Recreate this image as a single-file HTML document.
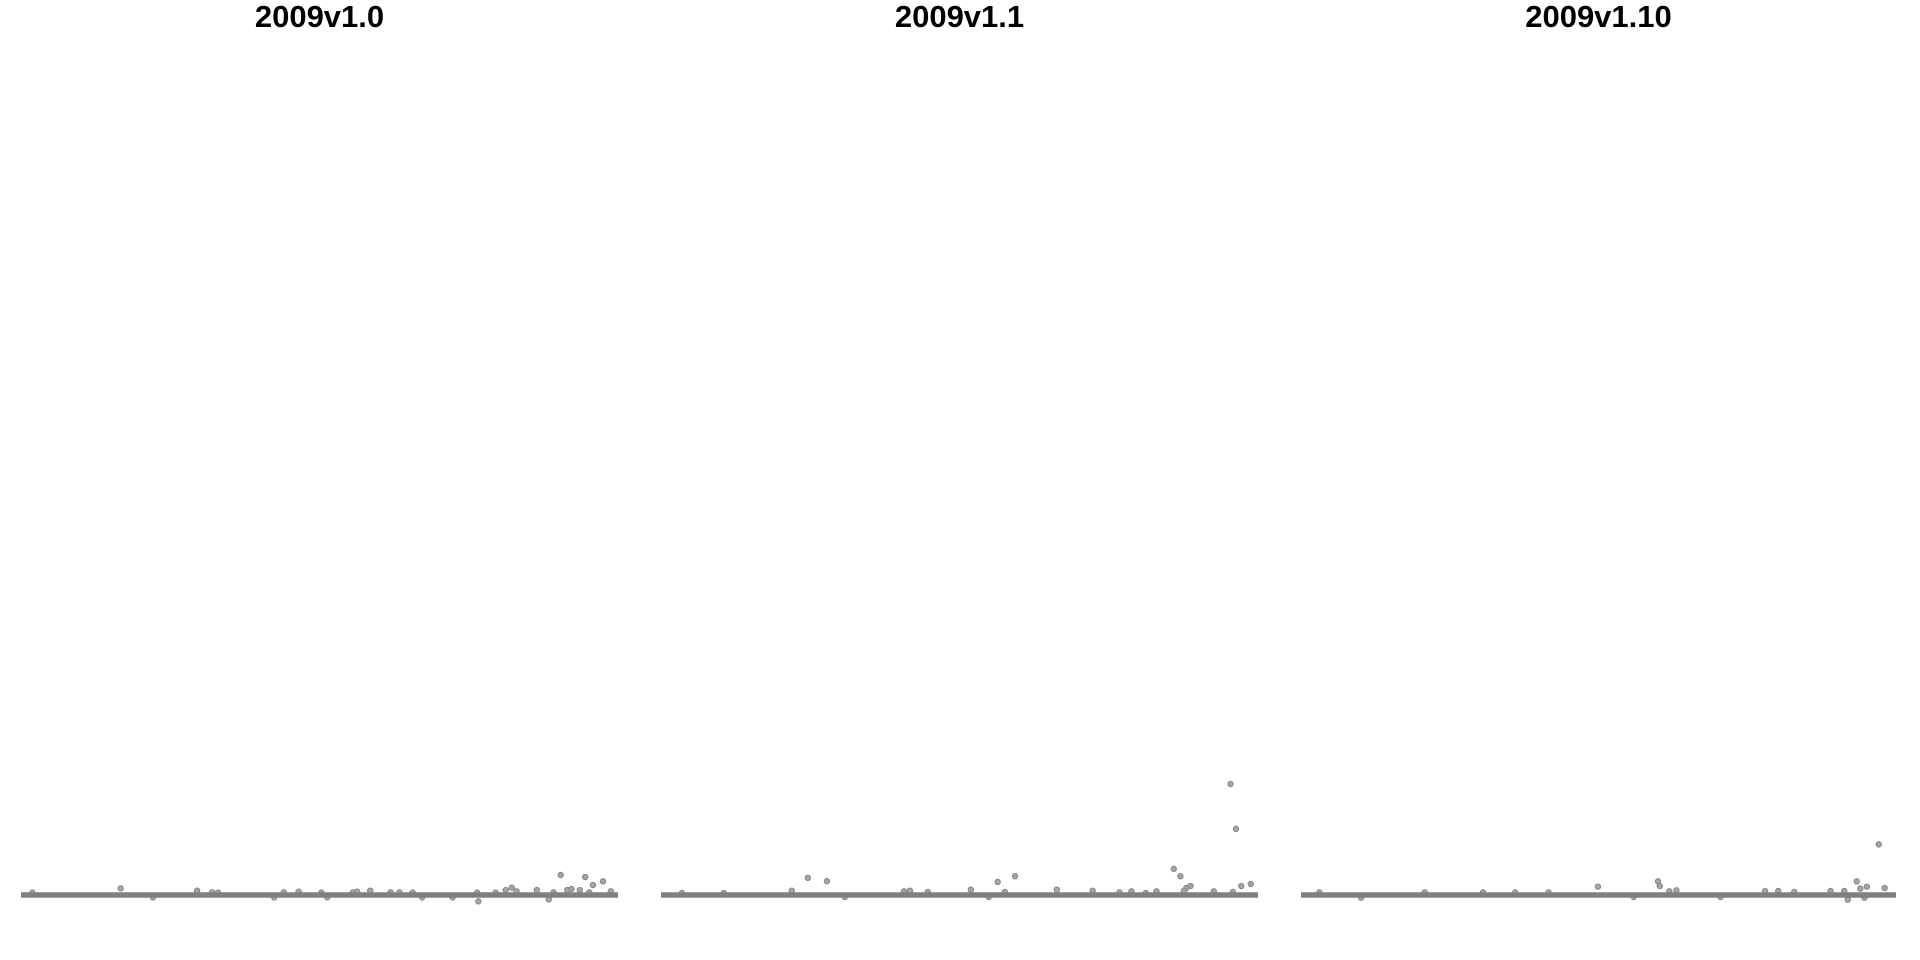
<!DOCTYPE html>
<html><head><meta charset="utf-8"><style>
html,body{margin:0;padding:0;background:#fff;}
svg{display:block;}
</style></head><body>
<svg id="chart" width="1920" height="960" xmlns="http://www.w3.org/2000/svg"></svg>
<script>
const panelTitles = ["2009v1.0", "2009v1.1", "2009v1.10"];
const p1x = [16.7,29.5,32,33,44,46.5,50.3,55.6,56.3,58.5,61.9,63.4,65.6,76.4,76.6,79.5,81.2,82.2,83,86.4,88.4,89.2,90.4,91.5,92.2,93.6,94.5,95.8,95.2,97.5,98.8,72.3,67.2,51.3,42.4,22.1,1.9];
const p1y = [8.2,5.3,3.3,2.9,3.3,4.1,2.9,3.3,4.1,5.3,3.3,3.3,2.9,2.9,-7.8,2.9,6.1,9,4.5,6.1,-5.3,3.3,24.5,6.1,7.3,6.1,22,12.2,3.3,16.7,4.5,-2.9,-2.9,-2.9,-2.9,-2.9,2.9];
const p2x = [95.4,96.3,85.9,87,88.7,88,87.6,97.2,98.8,59.3,56.4,24.6,27.8,21.9,51.9,40.7,41.7,66.3,72.3,78.8,83,92.6,95.8,57.6,44.7,3.5,10.5,54.9,30.8,76.8,81.2];
const p2y = [136,81,32,23,11,8.6,5.3,11,13.5,23,16,21,17,5.3,6.5,4.5,5.3,6.5,5.3,4.5,4.5,4.5,3.7,3.7,3.7,2.5,2.5,-2.5,-2.5,3.3,2.5];
const p3x = [97.1,60,60.3,49.9,93.4,95.1,94,98.1,63.1,61.9,78,80.2,89,91.3,91.9,94.7,10.1,82.9,3.1,20.8,30.6,36,41.6,55.9,70.5];
const p3y = [62,16.7,11,10.2,16.7,10.2,7.8,8.6,5.7,4.5,4.9,4.9,4.9,4.9,-5.7,-3.3,-3.3,3.7,3.3,3.3,3.3,3.3,3.3,-2.5,-2.5];
const seriesX = [p1x, p2x, p3x];
const seriesY = [p1y, p2y, p3y];

const NS = "http://www.w3.org/2000/svg";
const svg = document.getElementById("chart");
const panels = [{x0:21,x1:618},{x0:661,x1:1258},{x0:1301,x1:1896}];
const zeroY = 895;
function xScale(p, v){ return p.x0 + (p.x1 - p.x0) * v / 100; }
function yScale(v){ return zeroY - v * 0.8167; }

panels.forEach((p, i) => {
  const g = document.createElementNS(NS, "g");
  
  
  svg.appendChild(g);

  const t = document.createElementNS(NS, "text");
  
  
  t.setAttribute("x", (p.x0 + p.x1) / 2);
  t.setAttribute("y", 27);
  t.setAttribute("text-anchor", "middle");
  t.setAttribute("font-family", "Liberation Sans, Arial, sans-serif");
  t.setAttribute("font-weight", "bold");
  t.setAttribute("font-size", "31");
  t.textContent = panelTitles[i];
  g.appendChild(t);

  const xs = seriesX[i], ys = seriesY[i];
  for (let k = 0; k < xs.length; k++) {
    const c = document.createElementNS(NS, "circle");
    
    
    c.setAttribute("cx", xScale(p, xs[k]));
    c.setAttribute("cy", yScale(ys[k]));
    c.setAttribute("r", 2.6);
    c.setAttribute("fill", "#a6a6a6");
    c.setAttribute("stroke", "#8a8a8a");
    c.setAttribute("stroke-width", "1.2");
    g.appendChild(c);
  }

  const l = document.createElementNS(NS, "line");
  
  
  l.setAttribute("x1", p.x0);
  l.setAttribute("x2", p.x1);
  l.setAttribute("y1", yScale(0));
  l.setAttribute("y2", yScale(0));
  l.setAttribute("stroke", "#808080");
  l.setAttribute("stroke-width", "5.5");
  g.appendChild(l);
});
</script>
</body></html>
